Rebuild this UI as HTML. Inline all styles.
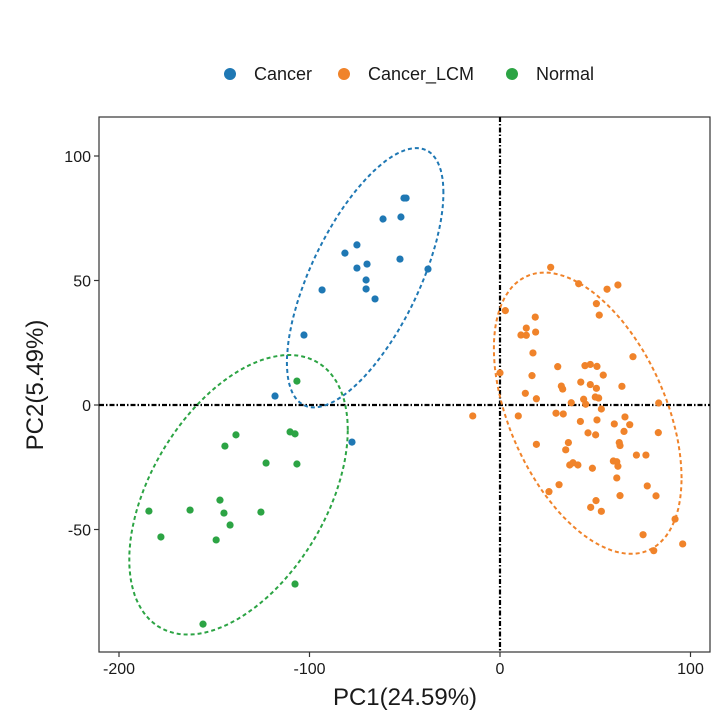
<!DOCTYPE html>
<html><head><meta charset="utf-8"><style>
body{margin:0;background:#fff;}
svg text{font-family:"Liberation Sans",Arial,sans-serif;fill:#1a1a1a;}
</style></head><body>
<svg id="chart" width="720" height="720">
</svg>
<script>
const groups = ["Cancer","Cancer_LCM","Normal"];
const groupColors = ["#1f78b4","#f0832a","#2ca444"];
const xTicks = [-200,-100,0,100];
const yTicks = [-50,0,50,100];
const cancerX = [-50.4,-49.3,-52.0,-61.4,-75.1,-81.4,-52.5,-75.1,-69.8,-70.3,-37.8,-70.3,-65.6,-93.4,-102.9,-118.1,-77.7];
const cancerY = [83.1,83.1,75.5,74.7,64.3,61.0,58.6,55.0,56.6,50.2,54.6,46.6,42.6,46.2,28.1,3.6,-14.9];
const normalX = [-106.6,-110.2,-107.6,-138.6,-144.4,-122.8,-106.6,-147,-184.3,-162.7,-144.9,-125.5,-141.7,-178,-149,-107.6,-155.9];
const normalY = [9.6,-10.8,-11.6,-12.0,-16.5,-23.3,-23.7,-38.2,-42.6,-42.2,-43.4,-43.0,-48.2,-53.0,-54.2,-71.9,-88.0];
const lcmX = [26.6,41.3,56.2,61.9,50.6,52.1,2.8,18.5,13.8,11.0,13.8,18.7,17.3,69.8,30.3,44.6,47.4,50.9,54.2,0,16.8,42.4,47.4,50.6,64.0,32.2,32.9,13.3,19.1,43.9,50.0,51.8,37.4,45.0,83.3,53.2,-14.3,9.6,29.4,33.2,42.2,50.9,65.6,60.0,68.1,65.1,46.2,50.2,83.1,19.1,35.9,34.5,62.6,63.0,71.6,76.6,59.5,61.3,61.9,36.6,38.3,40.9,48.5,61.3,31.0,25.7,77.3,63.0,81.9,50.4,47.6,53.2,91.9,75.1,80.7,95.9];
const lcmY = [55.3,48.7,46.5,48.2,40.7,36.1,37.9,35.3,30.9,28.1,28.0,29.3,20.9,19.4,15.4,15.8,16.3,15.5,12.0,12.9,11.8,9.2,8.2,6.7,7.5,7.6,6.4,4.7,2.5,2.3,3.2,2.8,0.9,0.3,0.8,-1.6,-4.4,-4.4,-3.3,-3.6,-6.6,-6.0,-4.8,-7.6,-7.9,-10.6,-11.2,-12.0,-11.1,-15.8,-15.1,-18.0,-15.1,-16.3,-20.1,-20.1,-22.5,-22.8,-24.6,-24.1,-23.2,-24.1,-25.4,-29.3,-32.0,-34.8,-32.5,-36.4,-36.5,-38.4,-41.1,-42.7,-45.8,-52.1,-58.5,-55.8];

const NS="http://www.w3.org/2000/svg";
const svg=document.getElementById('chart');
const P={l:99,r:710,t:117,b:652};
const xs=v=>500+v*1.905;
const ys=v=>405-v*2.49;
function mk(t,a,p){const e=document.createElementNS(NS,t);for(const k in a)e.setAttribute(k,a[k]);(p||svg).appendChild(e);return e;}

const border=mk('rect',{x:P.l,y:P.t,width:P.r-P.l,height:P.b-P.t,fill:'none',stroke:'#333','stroke-width':1.2});



const vl=mk('line',{x1:xs(0),x2:xs(0),y1:P.t,y2:P.b,stroke:'#000','stroke-width':2.2,'stroke-dasharray':'5 2 1.5 2'});


const hl=mk('line',{x1:P.l,x2:P.r,y1:ys(0),y2:ys(0),stroke:'#000','stroke-width':2.2,'stroke-dasharray':'5 2 1.5 2'});



xTicks.forEach(t=>{
  const l=mk('line',{x1:xs(t),x2:xs(t),y1:P.b,y2:P.b+5,stroke:'#333','stroke-width':1.2});
  
  
  const tx=mk('text',{x:xs(t),y:P.b+22,'text-anchor':'middle','font-size':16});
  tx.textContent=t;
  
  
});
yTicks.forEach(t=>{
  const l=mk('line',{x1:P.l-5,x2:P.l,y1:ys(t),y2:ys(t),stroke:'#333','stroke-width':1.2});
  
  
  const tx=mk('text',{x:P.l-8,y:ys(t)+6,'text-anchor':'end','font-size':16});
  tx.textContent=t;
  
  
});
const xt=mk('text',{x:405,y:705,'text-anchor':'middle','font-size':24});
xt.textContent='PC1(24.59%)';


const yt=mk('text',{x:0,y:0,'text-anchor':'middle','font-size':24,transform:'translate(43,385) rotate(-90)'});
yt.textContent='PC2(5.49%)';



function ellipse(X,Y,color,name,r){
  const n=X.length;let mx=0,my=0;
  for(let i=0;i<n;i++){mx+=X[i];my+=Y[i];}mx/=n;my/=n;
  let sxx=0,syy=0,sxy=0;
  for(let i=0;i<n;i++){const dx=X[i]-mx,dy=Y[i]-my;sxx+=dx*dx;syy+=dy*dy;sxy+=dx*dy;}
  sxx/=(n-1);syy/=(n-1);sxy/=(n-1);
  const a=Math.sqrt(sxx),c=sxy/a,d=Math.sqrt(Math.max(syy-c*c,0));
  let dstr='';
  for(let k=0;k<=120;k++){const th=2*Math.PI*k/120;const u=Math.cos(th)*r,v=Math.sin(th)*r;
    const x=mx+a*u,y=my+c*u+d*v;dstr+=(k?'L':'M')+xs(x).toFixed(1)+','+ys(y).toFixed(1);}
  const p=mk('path',{d:dstr+'Z',fill:'none',stroke:color,'stroke-width':2,'stroke-dasharray':'4 3'});
  
  
}
ellipse(cancerX,cancerY,groupColors[0],'cancer-ellipse',2.0);
ellipse(lcmX,lcmY,groupColors[1],'cancer-lcm-ellipse',2.17);
ellipse(normalX,normalY,groupColors[2],'normal-ellipse',2.3);

function pts(X,Y,color,name){
  for(let i=0;i<X.length;i++){
    const c=mk('circle',{cx:xs(X[i]),cy:ys(Y[i]),r:3.6,fill:color});
    
    
  }
}
pts(cancerX,cancerY,groupColors[0],'cancer-point');
pts(lcmX,lcmY,groupColors[1],'cancer-lcm-point');
pts(normalX,normalY,groupColors[2],'normal-point');

const lx=[230,344,512];
groups.forEach((g,i)=>{
  const c=mk('circle',{cx:lx[i],cy:74,r:6,fill:groupColors[i]});
  
  
  const t=mk('text',{x:lx[i]+24,y:80,'font-size':18});
  t.textContent=g;
  
  
});
</script>
</body></html>
